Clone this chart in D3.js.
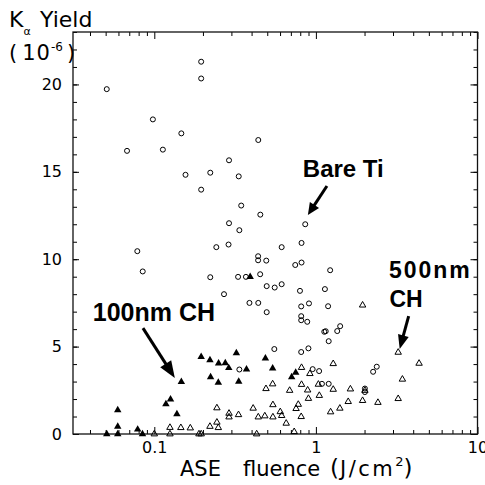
<!DOCTYPE html>
<html>
<head>
<meta charset="utf-8">
<script src="https://cdn.jsdelivr.net/npm/d3@7"></script>
<style>
body { margin: 0; background: #fff; }
svg { display: block; }
.tick text { font-family: "DejaVu Sans", sans-serif; font-size: 16px; fill: #000; }
.label { font-family: "DejaVu Sans", sans-serif; fill: #000; }
.note { font-family: "Liberation Sans", Arial, sans-serif; font-weight: bold; fill: #000; }
</style>
</head>
<body>
<script>
/* jshint esversion: 6 */
const W = 485, H = 485;
const frame = {left: 73, right: 477.5, top: 32, bottom: 434};

// Bare Ti: [ASE fluence (J/cm2), K-alpha yield (1e-6)]
const bareTi = [
	[0.0508, 19.73], [0.0678, 16.2], [0.098, 18.0], [0.113, 16.27], [0.147, 17.2],
	[0.156, 14.83], [0.195, 21.3], [0.195, 20.34], [0.222, 14.95], [0.195, 13.98],
	[0.290, 15.66], [0.333, 14.74], [0.345, 13.07], [0.290, 12.06], [0.336, 11.66],
	[0.440, 16.82], [0.453, 12.55], [0.859, 12.0], [0.815, 10.93], [0.614, 10.69],
	[0.242, 10.69], [0.288, 10.84], [0.0785, 10.46], [0.0848, 9.30], [0.222, 8.97],
	[0.270, 8.0], [0.330, 8.99], [0.369, 8.99], [0.452, 9.14], [0.439, 10.17],
	[0.439, 9.94], [0.493, 9.92], [0.745, 9.67], [0.815, 9.81], [0.496, 8.46],
	[0.556, 8.38], [0.614, 8.57], [0.797, 8.19], [1.137, 8.29], [1.225, 9.37],
	[0.388, 7.5], [0.440, 7.5], [0.496, 6.97], [0.811, 7.30], [0.906, 7.47],
	[1.19, 7.31], [0.811, 6.74], [0.811, 6.51], [0.884, 6.42], [1.127, 5.85],
	[1.15, 5.88], [1.355, 5.89], [1.413, 6.17], [1.2, 5.31], [0.553, 4.86],
	[0.811, 4.69], [0.899, 4.9], [0.336, 3.69], [0.955, 3.71], [1.047, 3.6],
	[2.26, 3.56], [2.38, 3.85], [1.09, 2.87], [1.20, 2.87], [2.01, 2.6], [2.01, 2.4]
];

// 100nm CH (filled triangles)
const ch100 = [
	[0.0508, 0], [0.0594, 1.37], [0.0594, 0.42], [0.0594, 0], [0.0789, 0.26],
	[0.0845, 0], [0.118, 1.71], [0.126, 1.98], [0.138, 1.14], [0.147, 2.99],
	[0.195, 4.42], [0.221, 4.23], [0.250, 4.04], [0.275, 4.06], [0.289, 3.78],
	[0.322, 4.63], [0.372, 3.70], [0.223, 3.26], [0.249, 2.94], [0.333, 3.0],
	[0.487, 4.33], [0.540, 3.76], [0.708, 3.26], [0.750, 3.51], [0.392, 8.99]
];

// 500nm CH (open triangles)
const ch500 = [
	[0.100, 0], [0.125, 0.37], [0.125, 0], [0.146, 0.36], [0.167, 0.34],
	[0.189, 0], [0.195, 0], [0.221, 0.43], [0.244, 0.67], [0.249, 0.36],
	[0.244, 1.49], [0.290, 1.18], [0.290, 0.97], [0.332, 1.10], [0.409, 1.47],
	[0.440, 0.97], [0.483, 1.03], [0.542, 0.97], [0.542, 1.67], [0.602, 1.27],
	[0.614, 1.05], [0.655, 0.61], [0.734, 0.13], [0.754, 1.45], [0.778, 1.69],
	[0.811, 0.99], [0.430, 0], [0.491, 2.59], [0.540, 2.86], [0.688, 2.49],
	[0.815, 3.80], [0.918, 3.45], [0.815, 2.83], [0.889, 2.51], [0.899, 2.03],
	[1.036, 2.84], [1.05, 2.2], [1.233, 1.26], [1.407, 1.47], [1.28, 2.55],
	[1.28, 4.02], [1.585, 1.85], [1.635, 2.57], [1.945, 1.91], [2.01, 2.49],
	[2.42, 1.8], [1.945, 7.37], [3.23, 4.67], [3.23, 2.02], [3.43, 3.13], [4.35, 4.04]
];

const xTicks = [0.1, 1, 10];
const yTicks = [0, 5, 10, 15, 20];
const yMinor = d3.range(0, 24, 1);

const x = d3.scaleLog()
		.domain([0.0314, 10])
		.range([frame.left, frame.right]);

const y = d3.scaleLinear()
		.domain([0, 23])
		.range([frame.bottom, frame.top]);

const svg = d3.select("body").append("svg")
		.attr("width", W)
		.attr("height", H);

// Minor ticks on all four sides (inward)
const xMinor = x.ticks().filter(v => xTicks.indexOf(v) < 0);
svg.append("g")
		.attr("transform", `translate(0,${frame.bottom})`)
		.call(d3.axisBottom(x).tickValues(xMinor).tickSize(-4).tickFormat(""));
svg.append("g")
		.attr("transform", `translate(0,${frame.top})`)
		.call(d3.axisTop(x).tickValues(xMinor).tickSize(-4).tickFormat(""));
svg.append("g")
		.attr("transform", `translate(${frame.left},0)`)
		.call(d3.axisLeft(y).tickValues(yMinor).tickSize(-4).tickFormat(""));
svg.append("g")
		.attr("transform", `translate(${frame.right},0)`)
		.call(d3.axisRight(y).tickValues(yMinor).tickSize(-4).tickFormat(""));

// Major ticks and labels
svg.append("g")
		.attr("transform", `translate(0,${frame.bottom})`)
		.call(d3.axisBottom(x).tickValues(xTicks).tickSize(-7).tickPadding(8)
			.tickFormat(d3.format("~g")));
svg.append("g")
		.attr("transform", `translate(0,${frame.top})`)
		.call(d3.axisTop(x).tickValues(xTicks).tickSize(-7).tickFormat(""));
svg.append("g")
		.attr("transform", `translate(${frame.left},0)`)
		.call(d3.axisLeft(y).tickValues(yTicks).tickSize(-6).tickPadding(11));
svg.append("g")
		.attr("transform", `translate(${frame.right},0)`)
		.call(d3.axisRight(y).tickValues(yTicks).tickSize(-7).tickFormat(""));

svg.selectAll(".domain").remove();
svg.selectAll(".tick line").attr("stroke", "#000");

// Plot frame
svg.append("rect")
		.attr("x", frame.left)
		.attr("y", frame.top)
		.attr("width", frame.right - frame.left)
		.attr("height", frame.bottom - frame.top)
		.attr("fill", "none")
		.attr("stroke", "#111")
		.attr("stroke-width", 1.3);

// Markers
const tri = d3.symbol().type(d3.symbolTriangle);

svg.append("g").selectAll("path")
	.data(ch500)
	.enter()
	.append("path")
		.attr("transform", d => `translate(${x(d[0])},${y(d[1])})`)
		.attr("d", tri.size(18)())
		.attr("fill", "none")
		.attr("stroke", "#000")
		.attr("stroke-width", 1);

svg.append("g").selectAll("path")
	.data(ch100)
	.enter()
	.append("path")
		.attr("transform", d => `translate(${x(d[0])},${y(d[1])})`)
		.attr("d", tri.size(24)())
		.attr("fill", "#000");

svg.append("g").selectAll("circle")
	.data(bareTi)
	.enter()
	.append("circle")
		.attr("cx", d => x(d[0]))
		.attr("cy", d => y(d[1]))
		.attr("r", 2.5)
		.attr("fill", "none")
		.attr("stroke", "#000")
		.attr("stroke-width", 1);

// Annotations (positions in data units)
function arrow(from, to, headLen, headW) {
	const x1 = x(from[0]), y1 = y(from[1]), x2 = x(to[0]), y2 = y(to[1]);
	const len = Math.hypot(x2 - x1, y2 - y1);
	const ux = (x2 - x1) / len, uy = (y2 - y1) / len;
	const bx = x2 - ux * headLen, by = y2 - uy * headLen;
	svg.append("line")
			.attr("x1", x1).attr("y1", y1)
			.attr("x2", bx + ux * 2).attr("y2", by + uy * 2)
			.attr("stroke", "#000")
			.attr("stroke-width", 3);
	svg.append("path")
			.attr("d", `M${x2},${y2}L${bx - uy * headW / 2},${by + ux * headW / 2}` +
				`L${bx + uy * headW / 2},${by - ux * headW / 2}Z`)
			.attr("fill", "#000");
}

svg.append("text").attr("class", "note")
		.attr("x", x(0.83)).attr("y", y(14.7))
		.style("font-size", "24px")
		.text("Bare Ti");
arrow([1.17, 14.19], [0.892, 12.53], 12, 11);

svg.append("text").attr("class", "note")
		.attr("x", x(0.0416)).attr("y", y(6.46))
		.style("font-size", "25px")
		.text("100nm CH");
arrow([0.0851, 6.06], [0.134, 3.2], 17, 13);

svg.append("text").attr("class", "note")
		.attr("x", x(2.83)).attr("y", y(8.92))
		.style("font-size", "23px")
		.style("letter-spacing", "2px")
		.text("500nm");
svg.append("text").attr("class", "note")
		.attr("x", x(2.85)).attr("y", y(7.27))
		.style("font-size", "23px")
		.text("CH");
arrow([3.75, 6.75], [3.30, 4.86], 14, 11);

// Y axis title
const yt = svg.append("text").attr("class", "label")
		.attr("x", 9).attr("y", 27)
		.style("font-size", "22px");
yt.append("tspan").text("K");
yt.append("tspan").attr("dy", 8).style("font-size", "11px").text("\u03b1");
yt.append("tspan").attr("x", 40).attr("dy", -8).text("Yield");

const yu = svg.append("text").attr("class", "label")
		.attr("x", 9).attr("y", 60)
		.style("font-size", "21px");
yu.append("tspan").text("(");
yu.append("tspan").attr("dx", 5).style("letter-spacing", "1px").text("10");
yu.append("tspan").attr("dy", -9).style("font-size", "12px").text("-6");
yu.append("tspan").attr("dy", 9).attr("dx", 4).text(")");

// X axis title
const xt = svg.append("text").attr("class", "label")
		.attr("x", 180).attr("y", 476)
		.style("font-size", "21px");
xt.append("tspan").text("ASE");
xt.append("tspan").attr("x", 243).text("fluence");
xt.append("tspan").attr("x", 330).style("font-size", "23px").text("(");
xt.append("tspan").attr("x", 340).style("letter-spacing", "2.5px").text("J/cm");
xt.append("tspan").attr("dy", -10).style("font-size", "13px").text("2");
xt.append("tspan").attr("dy", 10).style("font-size", "23px").text(")");
</script>
</body>
</html>
